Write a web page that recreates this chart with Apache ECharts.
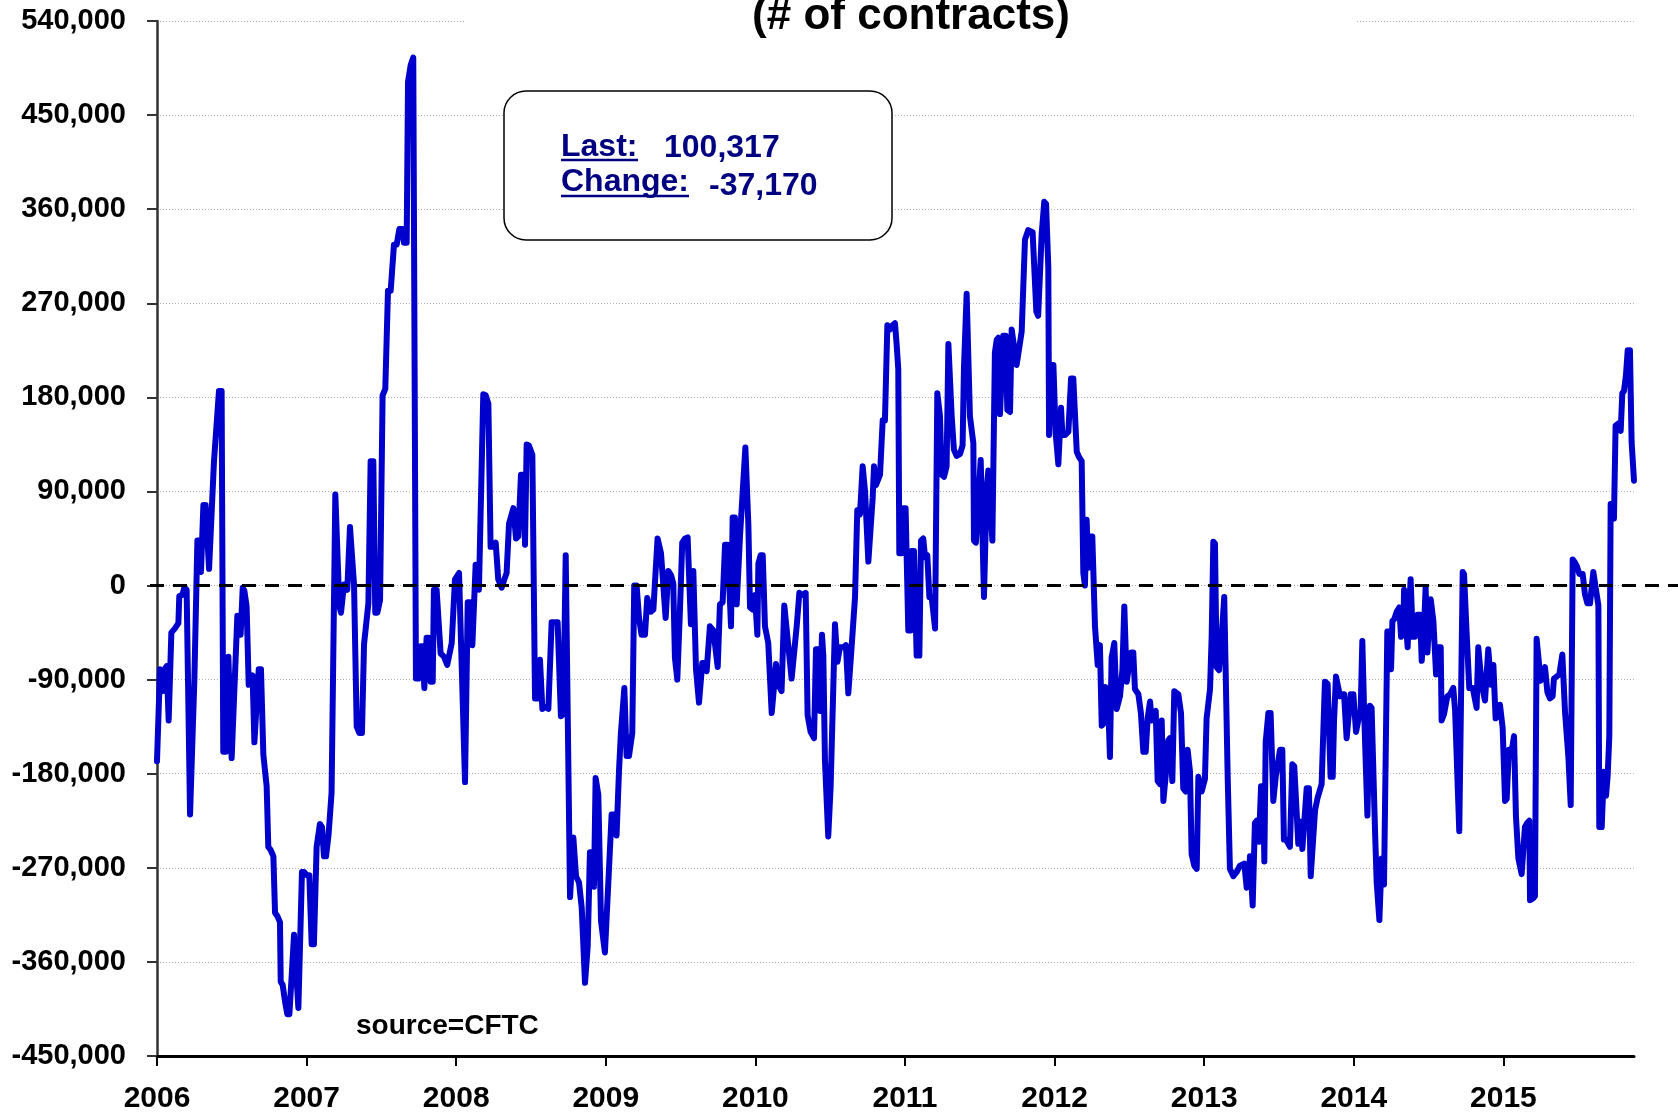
<!DOCTYPE html>
<html>
<head>
<meta charset="utf-8">
<title>Net positions (# of contracts)</title>
<script src="https://cdn.jsdelivr.net/npm/echarts@6/dist/echarts.min.js"></script>
<style>
  html, body { margin: 0; padding: 0; background: #fff; }
  #chart { width: 1678px; height: 1114px; }
</style>
</head>
<body>
<div id="chart"></div>
<script>
// weekly net position (decimal year, # of contracts)
const dates = [
  2006.000, 2006.020, 2006.038, 2006.051, 2006.065, 2006.078, 2006.091, 2006.096, 2006.120, 2006.143,
  2006.149, 2006.169, 2006.183, 2006.198, 2006.221, 2006.232, 2006.250, 2006.270, 2006.287, 2006.294,
  2006.310, 2006.325, 2006.348, 2006.361, 2006.381, 2006.392, 2006.414, 2006.432, 2006.443, 2006.461,
  2006.477, 2006.488, 2006.499, 2006.510, 2006.537, 2006.550, 2006.559, 2006.573, 2006.584, 2006.599,
  2006.613, 2006.626, 2006.639, 2006.651, 2006.662, 2006.680, 2006.695, 2006.711, 2006.733, 2006.744,
  2006.760, 2006.778, 2006.789, 2006.804, 2006.822, 2006.827, 2006.840, 2006.856, 2006.871, 2006.885,
  2006.900, 2006.916, 2006.929, 2006.945, 2006.956, 2006.969, 2006.983, 2007.000, 2007.018, 2007.034,
  2007.049, 2007.067, 2007.089, 2007.103, 2007.116, 2007.130, 2007.147, 2007.167, 2007.192, 2007.205,
  2007.219, 2007.230, 2007.241, 2007.250, 2007.272, 2007.290, 2007.303, 2007.317, 2007.335, 2007.352,
  2007.370, 2007.384, 2007.413, 2007.428, 2007.446, 2007.459, 2007.473, 2007.491, 2007.508, 2007.526,
  2007.544, 2007.562, 2007.584, 2007.602, 2007.620, 2007.642, 2007.651, 2007.669, 2007.678, 2007.696,
  2007.713, 2007.724, 2007.731, 2007.749, 2007.762, 2007.776, 2007.787, 2007.802, 2007.816, 2007.829,
  2007.843, 2007.851, 2007.869, 2007.896, 2007.918, 2007.940, 2007.970, 2007.992, 2008.019, 2008.059,
  2008.077, 2008.092, 2008.108, 2008.121, 2008.130, 2008.141, 2008.152, 2008.163, 2008.181, 2008.197,
  2008.215, 2008.230, 2008.244, 2008.264, 2008.281, 2008.304, 2008.322, 2008.337, 2008.353, 2008.382,
  2008.400, 2008.415, 2008.433, 2008.449, 2008.460, 2008.471, 2008.486, 2008.509, 2008.527, 2008.544,
  2008.560, 2008.576, 2008.598, 2008.616, 2008.638, 2008.678, 2008.700, 2008.716, 2008.732, 2008.761,
  2008.783, 2008.801, 2008.821, 2008.839, 2008.861, 2008.879, 2008.894, 2008.910, 2008.921, 2008.932,
  2008.950, 2008.968, 2008.994, 2009.017, 2009.039, 2009.057, 2009.072, 2009.088, 2009.101, 2009.124,
  2009.139, 2009.155, 2009.177, 2009.190, 2009.206, 2009.222, 2009.239, 2009.262, 2009.277, 2009.289,
  2009.302, 2009.318, 2009.346, 2009.369, 2009.400, 2009.418, 2009.436, 2009.451, 2009.462, 2009.478,
  2009.496, 2009.511, 2009.529, 2009.547, 2009.558, 2009.569, 2009.585, 2009.596, 2009.603, 2009.623,
  2009.645, 2009.663, 2009.674, 2009.696, 2009.719, 2009.748, 2009.763, 2009.781, 2009.797, 2009.814,
  2009.837, 2009.848, 2009.863, 2009.875, 2009.886, 2009.897, 2009.933, 2009.953, 2009.964, 2009.982,
  2009.997, 2010.013, 2010.020, 2010.035, 2010.049, 2010.064, 2010.086, 2010.109, 2010.120, 2010.138,
  2010.153, 2010.175, 2010.193, 2010.204, 2010.242, 2010.276, 2010.294, 2010.314, 2010.336, 2010.349,
  2010.369, 2010.392, 2010.405, 2010.421, 2010.432, 2010.445, 2010.454, 2010.465, 2010.487, 2010.503,
  2010.532, 2010.548, 2010.565, 2010.588, 2010.605, 2010.621, 2010.643, 2010.666, 2010.681, 2010.699,
  2010.717, 2010.733, 2010.755, 2010.766, 2010.784, 2010.793, 2010.806, 2010.817, 2010.833, 2010.851,
  2010.866, 2010.882, 2010.900, 2010.917, 2010.933, 2010.944, 2010.955, 2010.962, 2010.978, 2010.989,
  2011.004, 2011.022, 2011.038, 2011.044, 2011.060, 2011.078, 2011.096, 2011.107, 2011.122, 2011.134,
  2011.149, 2011.163, 2011.178, 2011.201, 2011.212, 2011.216, 2011.234, 2011.245, 2011.261, 2011.278,
  2011.290, 2011.312, 2011.327, 2011.345, 2011.368, 2011.385, 2011.394, 2011.412, 2011.434, 2011.457,
  2011.461, 2011.474, 2011.490, 2011.506, 2011.517, 2011.528, 2011.546, 2011.557, 2011.568, 2011.584,
  2011.595, 2011.601, 2011.613, 2011.624, 2011.635, 2011.646, 2011.657, 2011.673, 2011.684, 2011.702,
  2011.713, 2011.724, 2011.746, 2011.757, 2011.780, 2011.802, 2011.824, 2011.853, 2011.878, 2011.890,
  2011.914, 2011.931, 2011.943, 2011.958, 2011.963, 2011.976, 2011.992, 2012.007, 2012.025, 2012.043,
  2012.052, 2012.070, 2012.092, 2012.110, 2012.125, 2012.148, 2012.163, 2012.181, 2012.192, 2012.203,
  2012.214, 2012.225, 2012.237, 2012.252, 2012.270, 2012.288, 2012.303, 2012.315, 2012.326, 2012.337,
  2012.355, 2012.370, 2012.381, 2012.399, 2012.415, 2012.437, 2012.453, 2012.466, 2012.482, 2012.493,
  2012.511, 2012.526, 2012.537, 2012.560, 2012.577, 2012.593, 2012.609, 2012.622, 2012.638, 2012.649,
  2012.660, 2012.676, 2012.689, 2012.705, 2012.716, 2012.727, 2012.742, 2012.760, 2012.771, 2012.787,
  2012.800, 2012.827, 2012.845, 2012.860, 2012.876, 2012.889, 2012.905, 2012.916, 2012.934, 2012.950,
  2012.961, 2012.972, 2012.983, 2013.005, 2013.016, 2013.039, 2013.050, 2013.061, 2013.072, 2013.083,
  2013.099, 2013.117, 2013.134, 2013.143, 2013.157, 2013.172, 2013.195, 2013.217, 2013.239, 2013.268,
  2013.284, 2013.295, 2013.306, 2013.324, 2013.339, 2013.351, 2013.366, 2013.380, 2013.395, 2013.402,
  2013.411, 2013.429, 2013.444, 2013.462, 2013.478, 2013.507, 2013.522, 2013.533, 2013.547, 2013.573,
  2013.589, 2013.602, 2013.629, 2013.645, 2013.656, 2013.669, 2013.685, 2013.700, 2013.712, 2013.723,
  2013.741, 2013.758, 2013.785, 2013.807, 2013.825, 2013.845, 2013.859, 2013.868, 2013.881, 2013.890,
  2013.908, 2013.919, 2013.935, 2013.952, 2013.964, 2013.979, 2013.997, 2014.015, 2014.030, 2014.046,
  2014.057, 2014.070, 2014.091, 2014.108, 2014.119, 2014.142, 2014.153, 2014.171, 2014.186, 2014.202,
  2014.215, 2014.224, 2014.238, 2014.249, 2014.258, 2014.271, 2014.287, 2014.304, 2014.316, 2014.331,
  2014.336, 2014.349, 2014.360, 2014.371, 2014.380, 2014.394, 2014.409, 2014.425, 2014.443, 2014.454,
  2014.469, 2014.480, 2014.492, 2014.503, 2014.514, 2014.532, 2014.550, 2014.565, 2014.581, 2014.587,
  2014.603, 2014.625, 2014.643, 2014.665, 2014.677, 2014.705, 2014.714, 2014.728, 2014.737, 2014.754,
  2014.772, 2014.795, 2014.821, 2014.832, 2014.844, 2014.855, 2014.877, 2014.888, 2014.899, 2014.910,
  2014.917, 2014.933, 2014.948, 2014.962, 2014.977, 2014.995, 2015.011, 2015.022, 2015.037, 2015.055,
  2015.071, 2015.084, 2015.100, 2015.122, 2015.133, 2015.144, 2015.160, 2015.173, 2015.178, 2015.200,
  2015.211, 2015.222, 2015.233, 2015.249, 2015.260, 2015.278, 2015.294, 2015.311, 2015.329, 2015.338,
  2015.356, 2015.374, 2015.394, 2015.401, 2015.412, 2015.434, 2015.450, 2015.463, 2015.474, 2015.490,
  2015.508, 2015.530, 2015.545, 2015.561, 2015.579, 2015.601, 2015.612, 2015.635, 2015.641, 2015.657,
  2015.672, 2015.686, 2015.697, 2015.708, 2015.717, 2015.730, 2015.739, 2015.750, 2015.768, 2015.784,
  2015.795, 2015.806, 2015.819, 2015.831, 2015.846, 2015.857, 2015.873
]

const netContracts = [
  -168000, -80000, -101000, -80000, -77000, -129000, -129000, -45000, -41000, -36000,
  -10000, -9000, -2000, -4000, -219000, -219000, -89000, 43000, 43000, 13000,
  77000, 77000, 16000, 16000, 119000, 119000, 186000, 186000, -159000, -159000,
  -68000, -68000, -165000, -165000, -29000, -29000, -47000, -2000, -5000, -20000,
  -95000, -95000, -86000, -150000, -150000, -80000, -80000, -162000, -192000, -250000,
  -253000, -259000, -313000, -316000, -322000, -379000, -382000, -398000, -410000, -410000,
  -374000, -334000, -334000, -404000, -404000, -274000, -274000, -277000, -277000, -343000,
  -343000, -250000, -228000, -231000, -259000, -259000, -238000, -198000, 87000, 87000,
  -20000, -26000, -26000, 1000, -4000, 56000, 56000, 1000, -135000, -141000,
  -141000, -56000, -17000, 119000, 119000, -26000, -26000, -14000, 182000, 188000,
  282000, 282000, 326000, 326000, 341000, 341000, 328000, 328000, 482000, 498000,
  505000, 505000, -89000, -89000, -58000, -58000, -98000, -50000, -50000, -92000,
  -92000, -4000, -4000, -65000, -68000, -76000, -55000, 6000, 12000, -188000,
  -16000, -16000, -57000, -57000, 20000, 20000, -4000, -4000, 183000, 182000,
  174000, 37000, 37000, 41000, 6000, -2000, 6000, 12000, 59000, 74000,
  45000, 47000, 106000, 106000, 39000, 135000, 134000, 125000, -108000, -108000,
  -71000, -118000, -116000, -118000, -35000, -35000, -125000, -123000, 29000, -298000,
  -241000, -278000, -284000, -308000, -380000, -345000, -255000, -255000, -288000, -184000,
  -200000, -321000, -351000, -284000, -219000, -219000, -239000, -178000, -141000, -98000,
  -163000, -163000, -141000, 0, 0, -31000, -47000, -47000, -12000, -12000,
  -25000, -23000, 45000, 31000, -31000, 14000, 10000, 2000, -69000, -90000,
  -22000, 41000, 45000, 46000, 45000, -37000, 14000, 14000, -80000, -112000,
  -74000, -74000, -82000, -39000, -43000, -78000, -18000, -16000, 39000, 39000,
  -39000, 65000, 65000, -18000, -18000, 47000, 132000, 58000, -21000, -23000,
  -9000, -47000, 21000, 29000, 29000, -39000, -55000, -122000, -122000, -75000,
  -95000, -101000, -19000, -19000, -89000, -39000, -7000, -9000, -7000, -124000,
  -140000, -146000, -61000, -61000, -120000, -47000, -67000, -168000, -240000, -192000,
  -37000, -73000, -59000, -59000, -57000, -103000, -59000, -11000, 72000, 68000,
  114000, 90000, 23000, 23000, 84000, 114000, 96000, 96000, 106000, 158000,
  158000, 249000, 245000, 249000, 251000, 231000, 207000, 31000, 31000, 74000,
  74000, -43000, -43000, 33000, 33000, -67000, -67000, 43000, 45000, 27000,
  29000, -11000, -11000, -41000, -41000, 184000, 162000, 106000, 104000, 114000,
  231000, 162000, 130000, 124000, 126000, 134000, 207000, 279000, 162000, 136000,
  43000, 41000, 82000, 120000, 120000, -11000, 92000, 110000, 110000, 43000,
  43000, 223000, 235000, 237000, 164000, 164000, 239000, 239000, 168000, 166000,
  245000, 245000, 211000, 211000, 243000, 331000, 340000, 338000, 262000, 258000,
  337000, 367000, 365000, 304000, 144000, 211000, 211000, 146000, 116000, 170000,
  144000, 144000, 147000, 198000, 198000, 128000, 123000, 119000, 12000, 0,
  63000, 17000, 47000, 47000, -39000, -76000, -57000, -134000, -132000, -97000,
  -99000, -164000, -69000, -55000, -118000, -106000, -81000, -20000, -92000, -92000,
  -64000, -64000, -99000, -104000, -122000, -159000, -159000, -127000, -111000, -129000,
  -122000, -120000, -187000, -190000, -129000, -206000, -183000, -148000, -146000, -187000,
  -101000, -104000, -122000, -194000, -197000, -157000, -178000, -257000, -268000, -271000,
  -183000, -183000, -197000, -185000, -127000, -99000, -48000, 42000, 40000, -78000,
  -81000, -48000, -11000, -11000, -183000, -271000, -278000, -274000, -268000, -266000,
  -289000, -286000, -259000, -306000, -227000, -225000, -245000, -192000, -192000, -264000,
  -150000, -122000, -122000, -206000, -183000, -157000, -157000, -243000, -243000, -250000,
  -171000, -173000, -247000, -226000, -252000, -252000, -194000, -194000, -278000, -278000,
  -215000, -203000, -190000, -92000, -94000, -183000, -183000, -129000, -87000, -87000,
  -106000, -104000, -104000, -146000, -146000, -104000, -104000, -140000, -129000, -119000,
  -53000, -125000, -220000, -115000, -117000, -235000, -284000, -320000, -261000, -286000,
  -286000, -44000, -44000, -80000, -34000, -32000, -25000, -21000, -49000, -45000,
  -4000, -38000, -59000, -19000, 6000, -49000, -49000, -28000, -28000, -72000,
  -42000, -2000, -64000, -64000, -13000, -34000, -85000, -59000, -59000, -129000,
  -123000, -106000, -104000, -98000, -119000, -235000, -235000, 13000, 11000, -45000,
  -98000, -98000, -117000, -59000, -59000, -95000, -110000, -85000, -61000, -61000,
  -95000, -76000, -127000, -125000, -114000, -136000, -206000, -204000, -157000, -159000,
  -144000, -221000, -261000, -276000, -276000, -231000, -227000, -225000, -301000, -299000,
  -297000, -51000, -51000, -91000, -91000, -78000, -102000, -108000, -106000, -89000,
  -87000, -85000, -66000, -66000, -121000, -163000, -210000, 25000, 23000, 19000,
  11000, 11000, -8000, -17000, -17000, 13000, 13000, -19000, -231000, -231000,
  -178000, -201000, -182000, -144000, 78000, 78000, 64000, 153000, 155000, 148000,
  184000, 186000, 201000, 225000, 225000, 137487, 100317
]

const yearTicks = [2006, 2007, 2008, 2009, 2010, 2011, 2012, 2013, 2014, 2015]

const lastValue = netContracts[netContracts.length - 1]
const changeValue = lastValue - netContracts[netContracts.length - 2]

const FONT = '"Liberation Sans", Arial, Helvetica, sans-serif'
const NAVY = '#000080'

const fmt = (v) => v.toLocaleString('en-US')

const chart = echarts.init(document.getElementById('chart'))

const option = {
  animation: false,
  backgroundColor: '#fff',
  grid: {
    left: 157,
    right: 44,
    top: 21,
    bottom: 58
  },
  xAxis: {
    type: 'value',
    min: 2006,
    max: dates[dates.length - 1],
    interval: 1,
    axisLine: {
      onZero: false,
      lineStyle: { color: '#000', width: 3 }
    },
    axisTick: {
      length: 10,
      customValues: yearTicks,
      lineStyle: { color: '#000', width: 2 }
    },
    axisLabel: {
      customValues: yearTicks,
      formatter: (v) => String(v),
      margin: 28,
      color: '#000',
      fontSize: 30,
      fontWeight: 'bold',
      fontFamily: FONT
    },
    splitLine: { show: false }
  },
  yAxis: {
    type: 'value',
    min: -450000,
    max: 540000,
    interval: 90000,
    axisLine: {
      show: true,
      lineStyle: { color: '#333', width: 2.5 }
    },
    axisTick: {
      show: true,
      length: 10,
      lineStyle: { color: '#333', width: 2 }
    },
    axisLabel: {
      formatter: fmt,
      margin: 31,
      color: '#000',
      fontSize: 29,
      fontWeight: 'bold',
      fontFamily: FONT
    },
    splitLine: {
      lineStyle: { color: '#b4b4b4', width: 1, type: [1, 2] }
    }
  },
  series: [
    {
      name: 'Net position',
      type: 'line',
      data: dates.map((d, i) => [d, netContracts[i]]),
      showSymbol: false,
      smooth: false,
      lineStyle: { color: '#0000cc', width: 6, join: 'round', cap: 'round' },
      itemStyle: { color: '#0000cc' }
    }
  ]
}

chart.setOption(option)

// zero reference line runs a bit past both ends of the plot
const zeroY = chart.convertToPixel({ yAxisIndex: 0 }, 0)

chart.setOption({
  graphic: [
    {
      id: 'titleMask', type: 'rect', z: 50,
      shape: { x: 466, y: 0, width: 891, height: 44 },
      style: { fill: '#fff' }
    },
    {
      id: 'title', type: 'text', z: 51, x: 911, y: 17,
      style: {
        text: '(# of contracts)', fill: '#000',
        font: 'bold 44px ' + FONT, textAlign: 'center', textVerticalAlign: 'middle'
      }
    },
    {
      id: 'box', type: 'rect', z: 50,
      shape: { x: 504, y: 91, width: 388, height: 149, r: 22 },
      style: { fill: '#fff', stroke: '#000', lineWidth: 1.5 }
    },
    {
      id: 'lastLbl', type: 'text', z: 51, x: 561, y: 147,
      style: { text: 'Last:', fill: NAVY, font: 'bold 32px ' + FONT, textVerticalAlign: 'middle' }
    },
    {
      id: 'lastVal', type: 'text', z: 51, x: 664, y: 148,
      style: { text: fmt(lastValue), fill: NAVY, font: 'bold 32px ' + FONT, textVerticalAlign: 'middle' }
    },
    {
      id: 'chgLbl', type: 'text', z: 51, x: 561, y: 182,
      style: { text: 'Change:', fill: NAVY, font: 'bold 32px ' + FONT, textVerticalAlign: 'middle' }
    },
    {
      id: 'chgVal', type: 'text', z: 51, x: 709, y: 186,
      style: { text: fmt(changeValue), fill: NAVY, font: 'bold 32px ' + FONT, textVerticalAlign: 'middle' }
    },
    {
      id: 'lastUl', type: 'line', z: 51,
      shape: { x1: 561, y1: 160, x2: 638, y2: 160 },
      style: { stroke: NAVY, lineWidth: 2.5 }
    },
    {
      id: 'chgUl', type: 'line', z: 51,
      shape: { x1: 561, y1: 196, x2: 689, y2: 196 },
      style: { stroke: NAVY, lineWidth: 2.5 }
    },
    {
      id: 'source', type: 'text', z: 51, x: 356, y: 1026,
      style: { text: 'source=CFTC', fill: '#000', font: 'bold 28px ' + FONT, textVerticalAlign: 'middle' }
    },
    {
      id: 'zeroLine', type: 'line', z: 60,
      shape: { x1: 150, y1: zeroY, x2: 1678, y2: zeroY },
      style: { stroke: '#000', lineWidth: 3, lineDash: [14, 9] }
    }
  ]
})

window.addEventListener('resize', () => chart.resize())
</script>
</body>
</html>
